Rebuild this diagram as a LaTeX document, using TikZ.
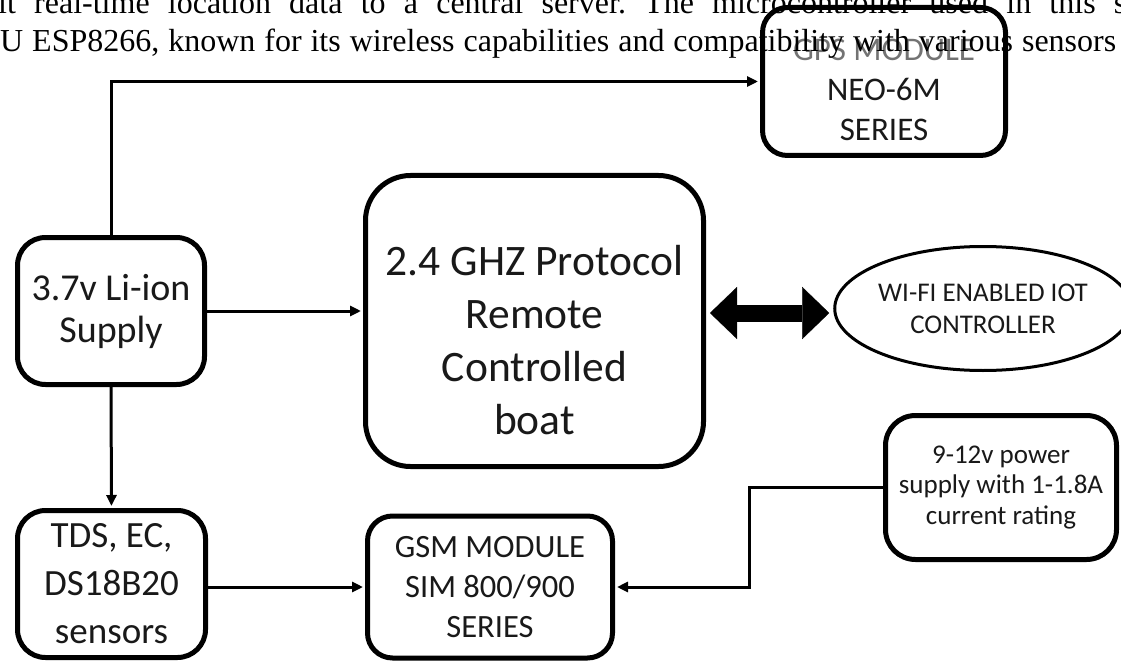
\documentclass[tikz,border=0pt]{standalone}
\usepackage{fontspec}
\setmainfont{Carlito}
\newfontfamily\serifdoc{Liberation Serif}
\usetikzlibrary{arrows.meta,shapes.geometric,calc}
\frenchspacing
\begin{document}
\begin{tikzpicture}[x=1pt,y=-1pt,
  box/.style={draw=black, line width=5pt, align=center, inner sep=0pt, text=black!90},
  conn/.style={line width=3pt, -{Triangle[length=11pt,width=10pt]}, shorten >=2pt},
  doctext/.style={anchor=base west, inner sep=0pt, font=\serifdoc\fontsize{32}{38}\selectfont, text=black}
]
\useasboundingbox (0,0) rectangle (1121,663);
\fill[white] (0,0) rectangle (1121,663);

% boxes
\node[box, rounded corners=25pt, minimum width=243pt, minimum height=148pt] (gps) at (884,81.5) {};
\node[align=center, inner sep=0pt, font=\fontsize{33}{40}\selectfont, text=black!90] (gpstext) at (884,90)
  {\textcolor{black!55}{GPS MODULE}\\NEO-6M\\SERIES};

\node[box, rounded corners=28pt, minimum width=187pt, minimum height=147pt,
      font=\fontsize{38}{42}\selectfont] (li) at (111,311) {3.7v Li-ion\\Supply};

\node[box, rounded corners=28pt, minimum width=188pt, minimum height=147pt,
      font=\fontsize{37}{48}\selectfont] (tds) at (111.5,584) {TDS, EC,\\DS18B20\\sensors};

\node[box, rounded corners=45pt, minimum width=338pt, minimum height=291pt] (boat) at (534.5,321) {};
\node[align=center, inner sep=0pt, font=\fontsize{43.5}{53}\selectfont, text=black!90] (boattext) at (534.5,340)
  {2.4 GHZ Protocol\\Remote\\Controlled\\boat};

\node[box, rounded corners=25pt, minimum width=245pt, minimum height=142pt,
      font=\fontsize{32.5}{40}\selectfont] (gsm) at (490,587) {GSM MODULE\\SIM 800/900\\SERIES};

\node[box, rounded corners=30pt, minimum width=231pt, minimum height=144pt,
      font=\fontsize{27}{30.5}\selectfont] (power) at (1001,487.5) {9-12v power\\supply with 1-1.8A\\current rating};

\node[box, ellipse, line width=3pt, minimum width=267pt, minimum height=124pt,
      font=\fontsize{27}{32}\selectfont] (wifi) at (983,308.5) {WI-FI ENABLED IOT\\CONTROLLER};

% connectors
\draw[conn] (li.north) |- (gps.west);
\draw[conn] (li.east) -- (li.east -| boat.west);
\draw[conn] (li.south) -- (tds.north);
\draw[conn] (tds.east |- gsm.west) -- (gsm.west);
\coordinate (mid) at ($(power.west)!0.5!(gsm.east)$);
\draw[conn] (power.west) -- (power.west -| mid) -- (mid |- gsm.east) -- (gsm.east);
\draw[line width=17pt,
      {Triangle[length=27pt,width=52pt,line width=0.1pt]}-{Triangle[length=27pt,width=52pt,line width=0.1pt]},
      shorten <=4pt, shorten >=4pt] (boat.east |- 0,313) coordinate (dl) -- (wifi.west |- 0,313) coordinate (dr);

% overlapping document text
\node[doctext] (doc1) at (-2,14) {\makebox[1128pt][s]{it real-time location data to a central server. The microcontroller used in this s}};
\node[doctext] (doc2) at (0,52) {\makebox[1116pt][s]{U ESP8266, known for its wireless capabilities and compatibility with various sensors}};
\end{tikzpicture}
\end{document}
